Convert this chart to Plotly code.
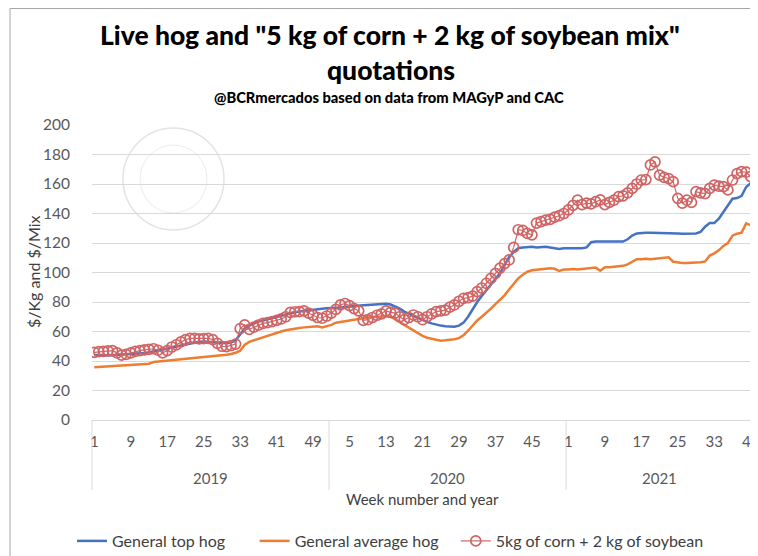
import plotly.graph_objects as go

# ---------------- data ----------------
years = ["2019", "2020", "2021"]
weeks_2019 = list(range(1, 53))
weeks_2020 = list(range(1, 53))
weeks_2021 = list(range(1, 42))

top_hog_2019 = [44.0, 44.2, 44.0, 43.8, 44.0, 44.2, 44.3, 44.5, 44.6, 45.0,
                45.2, 45.5, 46.0, 46.5, 47.0, 47.5, 48.2, 49.0, 49.8, 50.5,
                51.2, 52.0, 52.5, 53.0, 53.2, 53.0, 52.8, 52.5, 52.2, 52.0,
                52.5, 54.0, 58.0, 62.0, 64.0, 65.5, 66.7, 67.5, 68.3, 69.0,
                70.0, 71.0, 71.8, 72.5, 73.0, 73.5, 74.0, 74.5, 75.0, 75.3,
                75.5, 75.7]
top_hog_2020 = [75.8, 76.0, 76.3, 76.6, 77.0, 77.3, 77.6, 77.8, 78.0, 78.3,
                78.6, 79.0, 78.8, 78.3, 77.0, 75.5, 73.5, 72.0, 70.5, 69.0,
                67.5, 66.5, 65.5, 64.5, 64.0, 63.5, 63.3, 63.3, 64.0, 66.0,
                70.0, 75.0, 80.0, 84.0, 88.0, 92.0, 95.5, 99.5, 105.0, 110.5,
                114.0, 116.5, 117.0, 117.5, 117.5, 117.0, 117.5, 117.5, 117.0, 116.5,
                116.0, 116.5]
top_hog_2021 = [116.5, 116.5, 116.3, 116.5, 117.0, 120.5, 121.0, 121.0, 121.0, 120.8,
                120.8, 121.0, 121.0, 122.5, 125.0, 126.5, 127.0, 127.0, 127.0, 127.0,
                127.0, 126.8, 127.0, 126.8, 126.5, 126.3, 126.3, 126.5, 126.5, 127.5,
                131.0, 133.5, 133.5, 136.5, 141.0, 145.5, 150.0, 150.5, 152.0, 158.0,
                160.5]

avg_hog_2019 = [35.7, 36.0, 36.2, 36.4, 36.6, 36.8, 37.0, 37.2, 37.3, 37.5,
                37.6, 38.0, 38.2, 39.3, 39.6, 40.0, 40.3, 40.6, 41.0, 41.3,
                41.6, 42.0, 42.3, 42.2, 42.6, 43.0, 43.2, 43.4, 43.8, 44.2,
                44.8, 45.6, 47.0, 51.0, 53.0, 54.0, 55.0, 56.5, 57.5, 58.5,
                59.3, 60.0, 60.8, 61.5, 62.0, 62.4, 62.8, 63.2, 63.3, 63.5,
                62.8, 63.5]
avg_hog_2020 = [64.5, 66.0, 66.5, 67.0, 67.5, 68.5, 68.8, 69.0, 69.5, 69.8,
                70.0, 70.2, 70.3, 70.0, 68.5, 66.5, 64.5, 62.5, 60.5, 58.5,
                57.0, 55.8, 55.0, 54.3, 53.8, 54.0, 54.3, 54.7, 55.5, 57.5,
                60.5, 64.0, 67.5, 70.0, 72.5, 75.5, 78.5, 81.5, 84.5, 88.5,
                92.5, 96.0, 98.5, 100.5, 101.5, 102.0, 102.3, 102.5, 102.8, 102.5,
                101.0, 102.0]
avg_hog_2021 = [102.0, 102.3, 102.0, 102.3, 102.5, 103.0, 103.3, 101.2, 103.5, 103.5,
                103.8, 104.0, 104.5, 105.5, 107.3, 109.0, 109.0, 109.3, 109.0, 109.3,
                109.5, 109.8, 110.3, 107.3, 106.8, 106.5, 106.5, 106.6, 106.8, 107.0,
                107.5, 111.5, 113.0, 115.0, 118.0, 120.0, 125.0, 126.3, 127.0, 133.3,
                132.0]

mix_2019 = [45.9, 46.3, 46.5, 46.8, 47.0, 45.5, 44.0, 44.5, 45.5, 46.5,
            47.0, 47.5, 47.9, 48.3, 47.3, 45.5, 47.0, 49.5, 51.0, 53.0,
            54.5, 55.3, 55.4, 55.0, 55.2, 55.4, 54.5, 52.0, 50.0, 49.7,
            50.5, 51.5, 62.0, 64.5, 61.5, 63.0, 64.4, 65.5, 66.0, 66.7,
            67.5, 68.5, 70.0, 73.0, 73.4, 73.5, 74.0, 72.5, 71.0, 69.5,
            69.0, 70.5]
mix_2020 = [72.5, 75.0, 78.0, 79.0, 77.5, 75.5, 74.0, 67.5, 68.0, 69.5,
            71.0, 72.0, 74.0, 73.0, 72.5, 70.0, 68.0, 69.5, 71.2, 70.0,
            68.0, 70.0, 72.0, 73.5, 74.0, 74.5, 76.5, 78.0, 80.5, 82.5,
            83.0, 84.0, 87.0, 89.5, 92.7, 96.0, 99.4, 103.0, 106.0, 108.5,
            117.0, 129.0, 128.5, 126.5, 125.5, 133.5, 134.5, 135.5, 136.0, 137.5,
            138.5, 140.0]
mix_2021 = [142.4, 145.5, 149.0, 146.0, 147.0, 146.5, 148.0, 149.2, 146.0, 147.5,
            149.0, 151.4, 152.0, 154.0, 157.0, 160.0, 162.7, 163.0, 172.9, 175.0,
            166.0, 164.5, 163.7, 161.6, 150.3, 147.0, 149.0, 147.5, 154.8, 154.0,
            153.5, 157.0, 159.3, 158.5, 158.2, 156.0, 162.7, 167.0, 168.4, 168.0,
            165.0]

series_names = ["General top hog", "General average hog", "5kg of corn + 2 kg of soybean"]
series_colors = ["#4472C4", "#ED7D31", "#D06464"]
y_title = "$/Kg and $/Mix"
x_title = "Week number and year"

# ---------------- build ----------------
week_groups = [weeks_2019, weeks_2020, weeks_2021]
weeks = weeks_2019 + weeks_2020 + weeks_2021
x = list(range(len(weeks)))
top_hog = top_hog_2019 + top_hog_2020 + top_hog_2021
avg_hog = avg_hog_2019 + avg_hog_2020 + avg_hog_2021
mix = mix_2019 + mix_2020 + mix_2021

tickvals = x[::8]
ticktext = [str(weeks[i]) for i in tickvals]

fig = go.Figure()
fig.add_trace(go.Scatter(x=x, y=top_hog, mode="lines", name=series_names[0] + "\u00a0" * 6,
                         line=dict(color=series_colors[0], width=2.5)))
fig.add_trace(go.Scatter(x=x, y=avg_hog, mode="lines", name=series_names[1] + "\u00a0" * 3,
                         line=dict(color=series_colors[1], width=2.5)))
fig.add_trace(go.Scatter(x=x, y=mix, mode="lines+markers", name=series_names[2],
                         line=dict(color=series_colors[2], width=1.2),
                         marker=dict(symbol="circle-open", size=10,
                                     line=dict(color=series_colors[2], width=1.7))))

TXT = "#595959"
FONT = "Lato"

# The page body adds an 8px offset; work in page pixels and convert.
OFF = 8
FIG_W, FIG_H = 758 - OFF, 556 - OFF
L, R, T, B = 92 - OFF, 753 - OFF, 125 - OFF, 420 - OFF   # plot area in figure px
W, H = R - L, B - T
def px(page_x):
    return (page_x - OFF - L) / W
def py(page_y):
    return (B - (page_y - OFF)) / H

shapes = []
annotations = []
start = 0
bounds = []
for yr, wk in zip(years, week_groups):
    end = start + len(wk)
    annotations.append(dict(x=(start + end - 1) / 2, xref="x", y=py(478), yref="paper",
                            text=yr, showarrow=False, font=dict(family=FONT, size=15, color=TXT),
                            xanchor="center", yanchor="middle"))
    bounds.append(end - 0.5)
    start = end
for b in bounds[:-1]:
    shapes.append(dict(type="line", xref="x", yref="paper", x0=b, x1=b, y0=0, y1=py(490),
                       line=dict(color="#d9d9d9", width=1)))
for edge in (0, 1):
    shapes.append(dict(type="line", xref="paper", yref="paper", x0=edge, x1=edge, y0=0, y1=py(490),
                       line=dict(color="#d9d9d9", width=1)))

# faint seal watermark
shapes.append(dict(type="circle", xref="paper", yref="paper",
                   x0=px(123), x1=px(224), y0=py(230), y1=py(128),
                   line=dict(color="#e3e3e3", width=1.5), layer="below"))
shapes.append(dict(type="circle", xref="paper", yref="paper",
                   x0=px(140), x1=px(207), y0=py(213), y1=py(145),
                   line=dict(color="#ececec", width=1), layer="below"))
# outer frame
shapes.append(dict(type="rect", xref="paper", yref="paper",
                   x0=px(10), x1=px(790), y0=py(600), y1=py(8.5),
                   line=dict(color="#a6a6a6", width=1), fillcolor="rgba(0,0,0,0)", layer="above"))

annotations += [
    dict(x=px(390), xref="paper", y=py(35), yref="paper",
         text='Live hog and "5 kg of corn + 2 kg of soybean mix"', showarrow=False,
         xanchor="center", yanchor="middle",
         font=dict(family=FONT, size=26.5, color="#000000", weight=900)),
    dict(x=px(391), xref="paper", y=py(70), yref="paper",
         text="quotations", showarrow=False, xanchor="center", yanchor="middle",
         font=dict(family=FONT, size=26.5, color="#000000", weight=900)),
    dict(x=px(389), xref="paper", y=py(97), yref="paper",
         text="@BCRmercados based on data from MAGyP and CAC", showarrow=False,
         xanchor="center", yanchor="middle",
         font=dict(family=FONT, size=14.7, color="#000000", weight=900)),
    dict(x=0.5, xref="paper", y=py(499), yref="paper",
         text=x_title, showarrow=False, xanchor="center", yanchor="middle",
         font=dict(family=FONT, size=15, color="#404040")),
    dict(x=px(33), xref="paper", y=py(272), yref="paper",
         text=y_title, showarrow=False, xanchor="center", yanchor="middle", textangle=-90,
         font=dict(family=FONT, size=16, color="#404040")),
]

fig.update_layout(
    width=FIG_W, height=FIG_H,
    margin=dict(l=L, r=FIG_W - R, t=T, b=FIG_H - B, autoexpand=False),
    paper_bgcolor="white", plot_bgcolor="white",
    xaxis=dict(range=[-0.5, len(x) - 0.5], tickmode="array", tickvals=tickvals, ticktext=ticktext,
               showgrid=False, zeroline=False, showline=True, linecolor="#d9d9d9", linewidth=1,
               ticks="outside", ticklen=8, tickcolor="rgba(0,0,0,0)", automargin=False,
               ticklabeloverflow="allow",
               tickfont=dict(family=FONT, size=15, color=TXT), tickangle=0),
    yaxis=dict(range=[0, 200], dtick=20, showgrid=True, gridcolor="#d9d9d9", gridwidth=1,
               zeroline=False, showline=False, ticks="outside", ticklen=10,
               tickcolor="rgba(0,0,0,0)", automargin=False, ticksuffix="\u00a0\u00a0",
               tickfont=dict(family=FONT, size=15.5, color=TXT)),
    legend=dict(orientation="h", x=px(72), xanchor="left", y=py(541), yanchor="middle",
                font=dict(family=FONT, size=16, color="#404040"), itemwidth=30),
    shapes=shapes, annotations=annotations,
    showlegend=True,
)

fig.write_html("out.html")
